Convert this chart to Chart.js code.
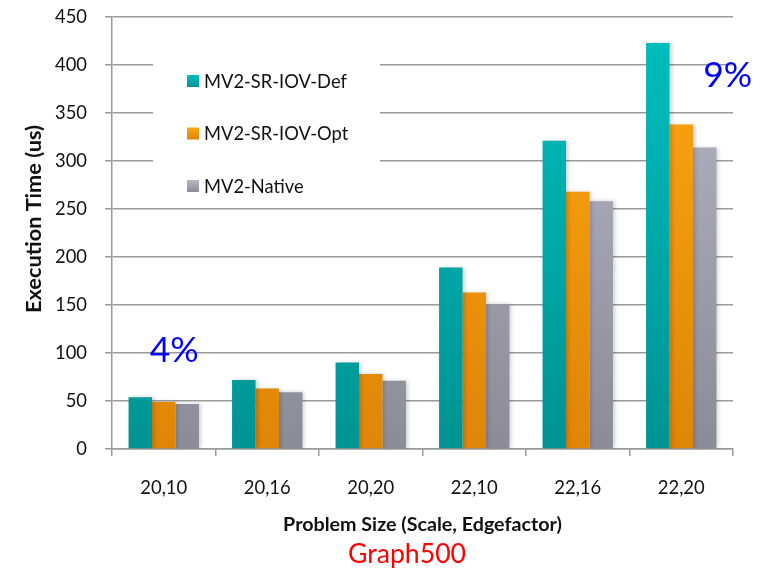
<!DOCTYPE html>
<html>
<head>
<meta charset="utf-8">
<script src="https://cdn.jsdelivr.net/npm/chart.js@4/dist/chart.umd.min.js"></script>
<style>
html,body{margin:0;padding:0;background:#fff;}
#wrap{width:766px;height:571px;}
</style>
</head>
<body>
<div id="wrap"><canvas id="c" width="766" height="571"></canvas></div>
<script>
const categories = ["20,10", "20,16", "20,20", "22,10", "22,16", "22,20"];
const seriesNames = ["MV2-SR-IOV-Def", "MV2-SR-IOV-Opt", "MV2-Native"];
const defValues = [54, 72, 90, 189, 321, 423];
const optValues = [49, 63, 78, 163, 268, 338];
const nativeValues = [47, 59, 71, 151, 258, 314];
const yTicks = [0, 50, 100, 150, 200, 250, 300, 350, 400, 450];
const annotations = [
  {text: "4%", category: 0, value: 90.5, dx: -14},
  {text: "9%", category: 5, value: 377, dx: 22}
];
const yTitle = "Execution Time (us)";
const xTitle = "Problem Size (Scale, Edgefactor)";
const chartTitle = "Graph500";

const gradStops = [
  ["#00bfbf", "#009393"],
  ["#ffa712", "#df8508"],
  ["#b6b6c6", "#8c8c98"]
];
const FONT = "Lato, 'Open Sans', sans-serif";

// size fonts so the text widths match the reference picture
const mctx = document.createElement('canvas').getContext('2d');
function fitSize(text, weight, target) {
  mctx.font = weight + " 100px " + FONT;
  return 100 * target / mctx.measureText(text).width;
}
const sizeXTitle = fitSize(xTitle, 'bold', 279);
const sizeYTitle = fitSize(yTitle, 'bold', 188);
const sizeLegend = fitSize(seriesNames[0], 'normal', 143);
const sizeTitle = fitSize(chartTitle, 'normal', 118);
const sizeXTick = fitSize(categories[0], 'normal', 47);
const sizeYTick = fitSize("450", 'normal', 32);
const sizeAnnot = fitSize("9%", 'normal', 49);

function grad(idx) {
  return function(ctx) {
    const ca = ctx.chart.chartArea;
    if (!ca) return gradStops[idx][0];
    const g = ctx.chart.ctx.createLinearGradient(0, ca.top, 0, ca.bottom);
    g.addColorStop(0, gradStops[idx][0]);
    g.addColorStop(1, gradStops[idx][1]);
    return g;
  };
}

const legendPlugin = {
  id: 'insideLegend',
  afterDraw(chart) {
    const ctx = chart.ctx;
    const ca = chart.chartArea;
    ctx.save();
    const bx = ca.left + 41, by = ca.top + 12, bw = 227, bh = 178.5;
    ctx.fillStyle = '#ffffff';
    ctx.fillRect(bx, by, bw, bh);
    ctx.font = sizeLegend + "px " + FONT;
    ctx.textBaseline = 'middle';
    chart.data.datasets.forEach((ds, i) => {
      const cy = ca.top + 64 + i * 52.5;
      const g = ctx.createLinearGradient(0, cy - 6, 0, cy + 6);
      g.addColorStop(0, gradStops[i][0]);
      g.addColorStop(1, gradStops[i][1]);
      ctx.fillStyle = g;
      ctx.fillRect(ca.left + 75, cy - 6, 12, 12);
      ctx.fillStyle = '#111';
      ctx.fillText(ds.label, ca.left + 92, cy + 1);
    });
    ctx.restore();
  }
};

const textPlugin = {
  id: 'texts',
  afterDraw(chart) {
    const ctx = chart.ctx;
    const xs = chart.scales.x, ys = chart.scales.y;
    ctx.save();
    // annotations
    ctx.font = sizeAnnot + "px " + FONT;
    ctx.fillStyle = '#0000ff';
    ctx.textAlign = 'left';
    ctx.textBaseline = 'alphabetic';
    annotations.forEach(a => {
      ctx.fillText(a.text, xs.getPixelForValue(a.category) + a.dx, ys.getPixelForValue(a.value));
    });
    // chart title (red, below x title)
    ctx.font = sizeTitle + "px " + FONT;
    ctx.fillStyle = '#ff0000';
    ctx.textAlign = 'center';
    ctx.fillText(chartTitle, 407, 563);
    // y axis title
    ctx.translate(34, 219);
    ctx.rotate(-Math.PI / 2);
    ctx.font = "bold " + sizeYTitle + "px " + FONT;
    ctx.fillStyle = '#111';
    ctx.textAlign = 'center';
    ctx.textBaseline = 'middle';
    ctx.fillText(yTitle, 0, 0);
    ctx.restore();
  }
};

const shadowPlugin = {
  id: 'barShadow',
  beforeDatasetDraw(chart) {
    const ctx = chart.ctx;
    ctx.save();
    ctx.shadowColor = 'rgba(0,0,0,0.18)';
    ctx.shadowBlur = 4;
    ctx.shadowOffsetX = 2;
    ctx.shadowOffsetY = 0;
  },
  afterDatasetDraw(chart) {
    chart.ctx.restore();
  }
};

const xTitleLH = sizeXTitle * 1.2;

new Chart(document.getElementById('c'), {
  type: 'bar',
  data: {
    labels: categories,
    datasets: [
      {label: seriesNames[0], data: defValues, backgroundColor: grad(0)},
      {label: seriesNames[1], data: optValues, backgroundColor: grad(1)},
      {label: seriesNames[2], data: nativeValues, backgroundColor: grad(2)}
    ]
  },
  options: {
    responsive: false,
    animation: false,
    layout: {padding: {top: 17, right: 33, left: 0, bottom: 0}},
    datasets: {bar: {categoryPercentage: 0.68, barPercentage: 1.0, borderWidth: 0}},
    plugins: {
      legend: {display: false},
      tooltip: {enabled: false},
      title: {display: false}
    },
    scales: {
      x: {
        grid: {display: true, drawOnChartArea: false, drawTicks: true, tickLength: 7, color: '#9a9a9a', lineWidth: 1.5, offset: true},
        border: {display: true, color: '#9a9a9a', width: 1.5},
        ticks: {color: '#111', font: {family: FONT, size: sizeXTick}, padding: 21},
        title: {display: true, text: xTitle, color: '#111', font: {family: FONT, size: sizeXTitle, weight: 'bold'}, padding: {top: 0, bottom: 46 - xTitleLH / 2}},
        afterFit(scale) { scale.height = 122; scale.paddingLeft = 0; scale.paddingRight = 0; }
      },
      y: {
        min: 0, max: 450,
        afterBuildTicks(scale) { scale.ticks = yTicks.map(v => ({value: v})); },
        grid: {color: '#9a9a9a', lineWidth: 1.5, tickLength: 7, drawTicks: true},
        border: {display: true, color: '#9a9a9a', width: 1.5},
        ticks: {color: '#111', font: {family: FONT, size: sizeYTick}, padding: 18},
        title: {display: false},
        afterFit(scale) { scale.width = 112; scale.paddingTop = 0; scale.paddingBottom = 0; }
      }
    }
  },
  plugins: [shadowPlugin, legendPlugin, textPlugin]
});
</script>
</body>
</html>
